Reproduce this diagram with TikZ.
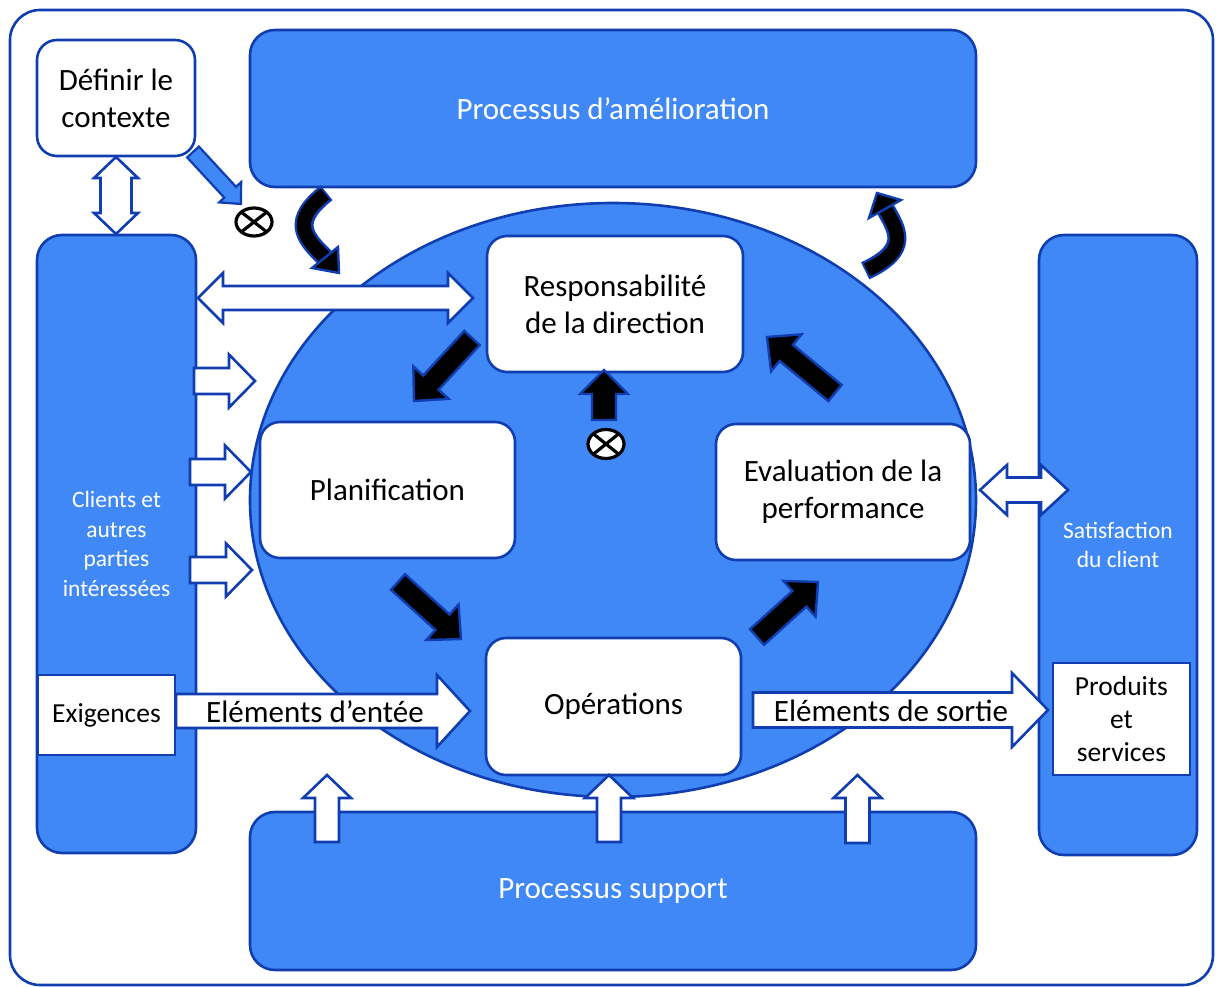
\documentclass[tikz,border=0pt]{standalone}
\usepackage{fontspec}
\setmainfont{Carlito}
\usetikzlibrary{calc,shapes.geometric}
\definecolor{dkb}{RGB}{16,62,176}
\definecolor{fb}{RGB}{64,136,245}
\newcommand\fbig{\fontsize{31}{37}\selectfont}
\newcommand\fmid{\fontsize{27.5}{33}\selectfont}
\newcommand\fsml{\fontsize{23.5}{29.5}\selectfont}
% single block arrow: style, start, end, shaft half, head half, head length
\newcommand\blockarr[6]{%
  \coordinate (bah) at ($(#3)!#6!(#2)$);
  \draw[#1] ($(#2)!#4!90:(#3)$) -- ($(bah)!#4!-90:(#2)$) -- ($(bah)!#5!-90:(#2)$) -- (#3)
    -- ($(bah)!#5!90:(#2)$) -- ($(bah)!#4!90:(#2)$) -- ($(#2)!#4!-90:(#3)$) -- cycle;}
% double block arrow
\newcommand\dblarr[6]{%
  \coordinate (dhA) at ($(#2)!#6!(#3)$);
  \coordinate (dhB) at ($(#3)!#6!(#2)$);
  \draw[#1] (#2) -- ($(dhA)!#5!90:(#3)$) -- ($(dhA)!#4!90:(#3)$) -- ($(dhB)!#4!-90:(#2)$)
    -- ($(dhB)!#5!-90:(#2)$) -- (#3) -- ($(dhB)!#5!90:(#2)$) -- ($(dhB)!#4!90:(#2)$)
    -- ($(dhA)!#4!-90:(#3)$) -- ($(dhA)!#5!-90:(#3)$) -- cycle;}
\begin{document}
\begin{tikzpicture}[x=1pt,y=-1pt,
  bluebox/.style={draw=dkb, fill=fb, line width=2.6pt, rounded corners=25pt, text=white, align=center, inner sep=0pt},
  whitebox/.style={draw=dkb, fill=white, line width=2.6pt, rounded corners=20pt, text=black, align=center, inner sep=0pt, font=\fbig},
  sqbox/.style={draw=dkb, fill=white, line width=2.6pt, text=black, align=center, inner sep=0pt, font=\fmid},
  whitearrow/.style={draw=dkb, fill=white, line width=2.6pt},
  blackarrow/.style={draw=dkb, fill=black, line width=2.4pt},
  bluearrow/.style={draw=dkb, fill=fb, line width=2.2pt},
  otimes/.style={draw=black, fill=white, line width=3.2pt},
  lbl/.style={text=black, font=\fbig, inner sep=0pt}
]
\useasboundingbox (0,0) rectangle (1216,987);
\draw[dkb, line width=2.6pt, rounded corners=30pt] (10,10) rectangle (1213,985);

% central ellipse
\node[ellipse, draw=dkb, fill=fb, line width=2.6pt, minimum width=726pt, minimum height=594pt, inner sep=0pt] (ell) at (613,500) {};

% big blue boxes
\node[bluebox, minimum width=726pt, minimum height=157pt, font=\fbig] (amel) at (613,108.5) {\raisebox{-2pt}{Processus d’amélioration}};
\node[bluebox, minimum width=726pt, minimum height=158pt, font=\fbig] (supp) at (613,891) {\raisebox{-2pt}{Processus support}};
\node[bluebox, minimum width=159pt, minimum height=618pt, font=\fsml] (cli) at (116.5,544) {Clients et\\autres\\parties\\intéressées};
\node[bluebox, minimum width=158pt, minimum height=620pt, font=\fsml] (sat) at (1118,545) {Satisfaction\\du client};

% context box
\node[whitebox, minimum width=158pt, minimum height=116pt] (ctx) at (116,98) {Définir le\\contexte};

% inner white boxes
\node[whitebox, minimum width=256pt, minimum height=136pt] (resp) at (615,304) {Responsabilité\\de la direction};
\node[whitebox, minimum width=255pt, minimum height=136pt] (plan) at (387.5,490) {\raisebox{-1pt}{Planification}};
\node[whitebox, minimum width=254pt, minimum height=136pt] (eval) at (843,492) {Evaluation de la\\performance};
\node[whitebox, minimum width=255pt, minimum height=137pt] (ops) at (613.5,706.5) {\raisebox{-2pt}{Opérations}};

% ---- arrow end coordinates
\coordinate (dvA) at (116,157); \coordinate (dvB) at (116,234);
\coordinate (bdA) at (193,152); \coordinate (bdB) at (241,204);
\coordinate (dtA) at (198,298); \coordinate (dtB) at (473,298);
\coordinate (r1A) at (194,381); \coordinate (r1B) at (255,381);
\coordinate (r2A) at (190,472); \coordinate (r2B) at (251,472);
\coordinate (r3A) at (190,570); \coordinate (r3B) at (252,570);
\coordinate (inA) at (176,711); \coordinate (inB) at (470,711);
\coordinate (outA) at (753,710); \coordinate (outB) at (1048,710);
\coordinate (u1A) at (327,842); \coordinate (u1B) at (327,775);
\coordinate (u2A) at (609,842); \coordinate (u2B) at (609,775);
\coordinate (u3A) at (857.5,843); \coordinate (u3B) at (857.5,775);
\coordinate (drA) at (980,490); \coordinate (drB) at (1068,490);
\coordinate (k1A) at (472,338); \coordinate (k1B) at (414,401);
\coordinate (k2A) at (398,582); \coordinate (k2B) at (461,639);
\coordinate (k3A) at (757,637); \coordinate (k3B) at (818,582);
\coordinate (k4A) at (835,393); \coordinate (k4B) at (767,337);
\coordinate (k5A) at (604,420); \coordinate (k5B) at (604,370);

% white block arrows
\dblarr{whitearrow}{dvA}{dvB}{15.5pt}{22pt}{21pt}
\dblarr{whitearrow}{dtA}{dtB}{12pt}{25pt}{25pt}
\dblarr{whitearrow}{drA}{drB}{12.5pt}{25pt}{27pt}
\blockarr{whitearrow}{r1A}{r1B}{13pt}{26.5pt}{26pt}
\blockarr{whitearrow}{r2A}{r2B}{13pt}{26.5pt}{26pt}
\blockarr{whitearrow}{r3A}{r3B}{13pt}{26.5pt}{26pt}
\blockarr{whitearrow}{inA}{inB}{17pt}{36pt}{33pt}
\blockarr{whitearrow}{outA}{outB}{17.5pt}{37pt}{36pt}
\blockarr{whitearrow}{u1A}{u1B}{12pt}{24pt}{23pt}
\blockarr{whitearrow}{u2A}{u2B}{12pt}{24pt}{23pt}
\blockarr{whitearrow}{u3A}{u3B}{12pt}{24pt}{23pt}

% blue diagonal arrow
\blockarr{bluearrow}{bdA}{bdB}{8pt}{15pt}{16pt}

% black arrows in the cycle
\blockarr{blackarrow}{k1A}{k1B}{10.5pt}{24pt}{25pt}
\blockarr{blackarrow}{k2A}{k2B}{10.5pt}{24pt}{25pt}
\blockarr{blackarrow}{k3A}{k3B}{10.5pt}{24pt}{25pt}
\blockarr{blackarrow}{k4A}{k4B}{10.5pt}{24pt}{25pt}
\blockarr{blackarrow}{k5A}{k5B}{12pt}{24pt}{24pt}

% curved black arrows
\coordinate (c1s) at (325,194); \coordinate (c1e) at (325,257.5);
\draw[dkb, line width=19pt, shorten <=-2pt] (c1s) .. controls (292,220) and (302,236) .. (c1e);
\draw[black, line width=14pt] (c1s) .. controls (292,220) and (302,236) .. (c1e);
\draw[blackarrow] (312,268) -- (339,273) -- (338,247) -- cycle;

\coordinate (c2s) at (867,270); \coordinate (c2e) at (885,208.5);
\draw[dkb, line width=19pt, shorten <=-2pt] (c2s) .. controls (910,250) and (898,231) .. (c2e);
\draw[black, line width=14pt] (c2s) .. controls (910,250) and (898,231) .. (c2e);
\draw[blackarrow] (869,218) -- (877,193) -- (901,200) -- cycle;

% otimes symbols
\coordinate (x1) at (254,222);
\draw[otimes] (x1) ellipse [x radius=18pt, y radius=14pt];
\draw[black, line width=3.2pt] ($(x1)+(-12.7,-9.9)$) -- ($(x1)+(12.7,9.9)$) ($(x1)+(-12.7,9.9)$) -- ($(x1)+(12.7,-9.9)$);
\coordinate (x2) at (606,444);
\draw[otimes] (x2) ellipse [x radius=18pt, y radius=14.5pt];
\draw[black, line width=3.2pt] ($(x2)+(-12.7,-10.2)$) -- ($(x2)+(12.7,10.2)$) ($(x2)+(-12.7,10.2)$) -- ($(x2)+(12.7,-10.2)$);

% square boxes
\node[sqbox, minimum width=137pt, minimum height=80pt] (exig) at (106.5,715) {Exigences};
\node[sqbox, minimum width=137pt, minimum height=112pt] (prod) at (1121.5,719) {Produits\\et\\services};

% arrow labels
\node[lbl] (inl) at (315,712) {Eléments d’entée};
\node[lbl] (outl) at (891,711) {Eléments de sortie};
\end{tikzpicture}
\end{document}
